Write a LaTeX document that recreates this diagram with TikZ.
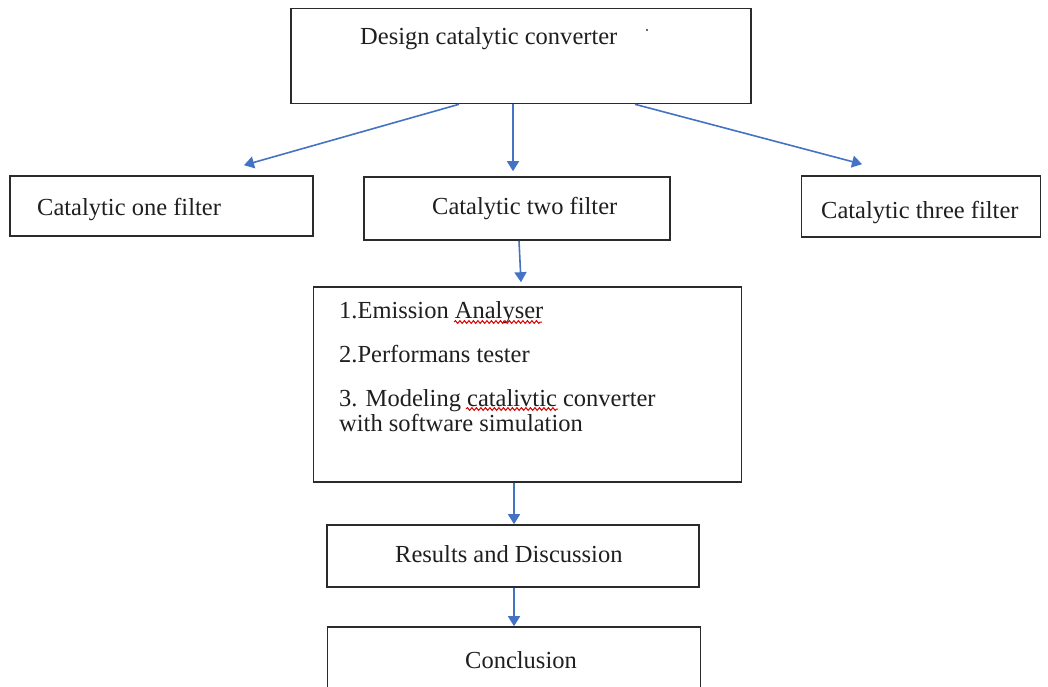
\documentclass[tikz,border=0pt]{standalone}
\usepackage{fontspec}
\setmainfont{Liberation Serif}
\usetikzlibrary{arrows.meta,decorations.pathmorphing}

\definecolor{arrowblue}{HTML}{4472C4}
\definecolor{boxline}{HTML}{2B2B2B}

\tikzset{
  stepbox/.style={draw=boxline, line width=1.6pt, fill=white, inner sep=0pt},
  txt/.style={anchor=base west, inner sep=0pt, font=\fontsize{24.5}{28}\selectfont, text=black!88},
  flow/.style={draw=arrowblue, line width=1.6pt, -{Triangle[width=12pt,length=10pt]}},
  squiggle/.style={draw=red!85!black, line width=1pt,
    decorate, decoration={snake, amplitude=1.4pt, segment length=4.5pt}}
}

\begin{document}
\begin{tikzpicture}[x=1pt,y=-1pt]
  \useasboundingbox (0,0) rectangle (1048,687);
  \clip (0,0) rectangle (1048,687);

  % boxes (corner coordinates in picture units)
  \node[stepbox, minimum width=460pt, minimum height=95pt] (design) at (521,56) {};
  \node[stepbox, minimum width=303pt, minimum height=60pt] (one)    at (161.5,206) {};
  \node[stepbox, minimum width=306pt, minimum height=63pt] (two)    at (517,208.5) {};
  \node[stepbox, minimum width=239pt, minimum height=61pt] (three)  at (921,206.5) {};
  \node[stepbox, minimum width=428pt, minimum height=195pt] (tools) at (527.5,384.5) {};
  \node[stepbox, minimum width=372pt, minimum height=62pt] (results) at (513,556) {};
  \node[stepbox, minimum width=373pt, minimum height=90pt] (concl)  at (514,672) {};

  % labels
  \node[txt] (tdesign) at (360,45) {Design catalytic converter};
  \fill[black!80] (647,30) circle (1.1pt);
  \node[txt] (tone)   at (37,215)  {Catalytic one filter};
  \node[txt] (ttwo)   at (432,214) {Catalytic two filter};
  \node[txt] (tthree) at (821,218) {Catalytic three filter};
  \node[txt] (tl1) at (339,318) {1.Emission Analyser};
  \node[txt] (tl2) at (339,362) {2.Performans tester};
  \node[txt] (tl3) at (339,406) {3. Modeling catalivtic converter};
  \node[txt] (tl4) at (339,431) {with software simulation};
  \node[txt] (tres) at (395,562) {Results and Discussion};
  \node[txt] (tcon) at (465,668) {Conclusion};

  % spell-check marks
  \path[squiggle] (454,322) -- (542,322);
  \path[squiggle] (466,409) -- (558,409);

  % connectors
  \draw[flow] ([xshift=-62pt]design.south) -- ([xshift=82.5pt,yshift=10pt]one.north);
  \draw[flow] ([xshift=-8pt]design.south) -- ([xshift=-4pt,yshift=5pt]two.north);
  \draw[flow] ([xshift=114pt]design.south) -- ([xshift=-59pt,yshift=11pt]three.north);
  \draw[flow] ([xshift=2pt]two.south) -- ([xshift=-6.5pt,yshift=4pt]tools.north);
  \draw[flow] ([xshift=-13.5pt]tools.south) -- ([xshift=1pt]results.north);
  \draw[flow] ([xshift=1pt]results.south) -- ([yshift=0pt]concl.north);
\end{tikzpicture}
\end{document}
